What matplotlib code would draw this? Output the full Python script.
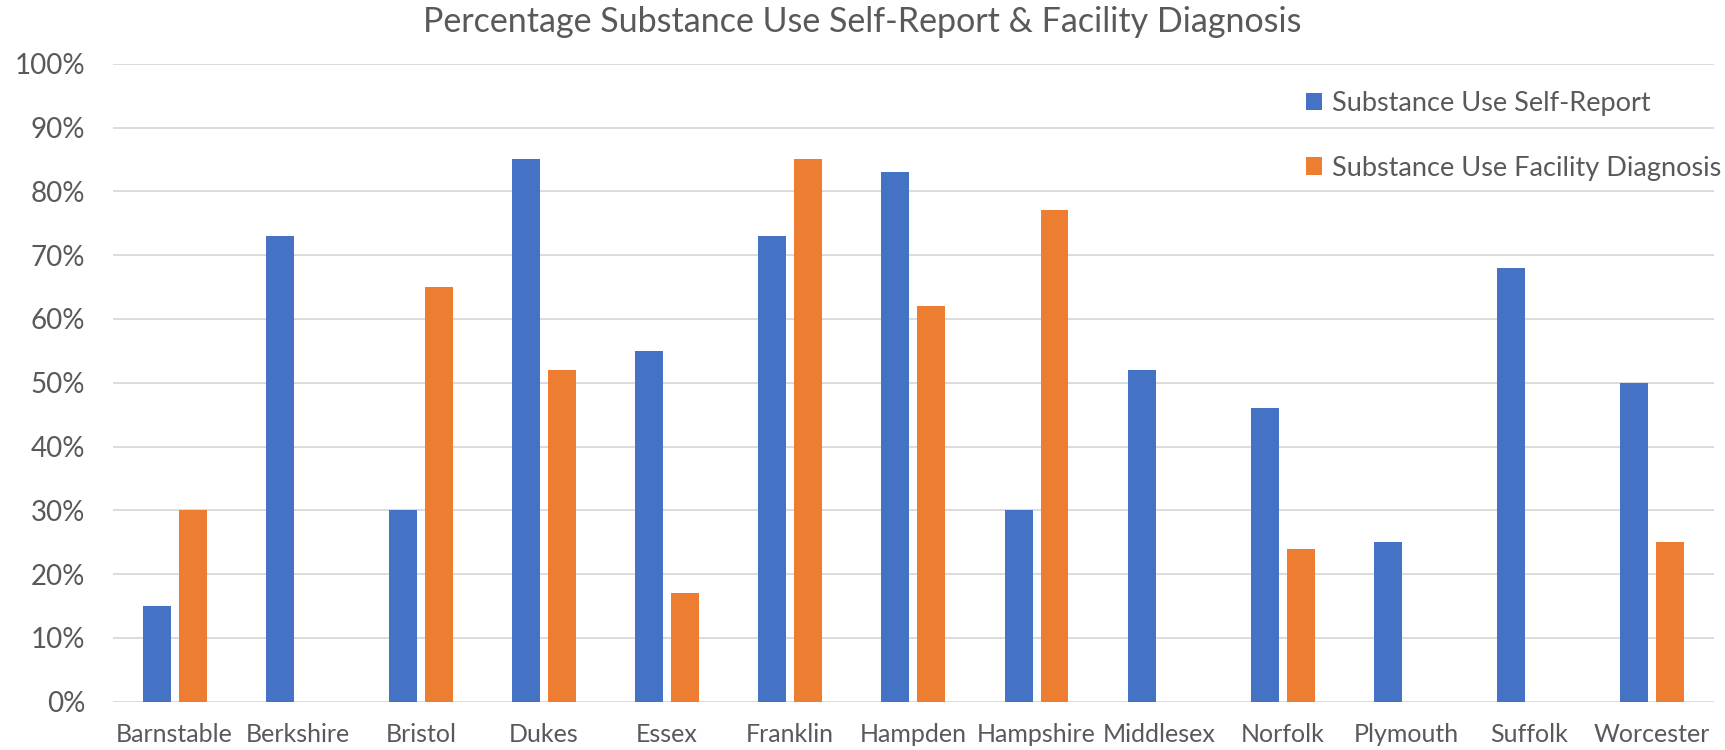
import numpy as np
import matplotlib.pyplot as plt
from matplotlib.ticker import PercentFormatter

plt.rcParams['font.family'] = ['Lato', 'DejaVu Sans']

counties = ["Barnstable", "Berkshire", "Bristol", "Dukes", "Essex", "Franklin",
            "Hampden", "Hampshire", "Middlesex", "Norfolk", "Plymouth", "Suffolk",
            "Worcester"]
self_report = [15, 73, 30, 85, 55, 73, 83, 30, 52, 46, 25, 68, 50]
facility_dx = [30, 0, 65, 52, 17, 85, 62, 77, 0, 24, 0, 0, 25]

blue = '#4472C4'
orange = '#ED7D31'
txt = '#595959'

fig = plt.figure(figsize=(17.25, 7.5), dpi=100)
ax = fig.add_axes([0.0655, 0.0644, 0.928, 0.8506])

x = np.arange(len(counties))
w = 0.227
off = 0.146
ax.bar(x - off, self_report, w, color=blue, edgecolor='white', linewidth=0,
       label="Substance Use Self-Report", zorder=3)
ax.bar(x + off, facility_dx, w, color=orange, edgecolor='white', linewidth=0,
       label="Substance Use Facility Diagnosis", zorder=3)

ax.set_xlim(-0.5, len(counties) - 0.5)
ax.set_ylim(0, 100)
ax.set_yticks(np.arange(0, 101, 10))
ax.yaxis.set_major_formatter(PercentFormatter(decimals=0))
ax.set_xticks(x)
ax.set_xticklabels(counties)
ax.grid(axis='y', color='#D9D9D9', linewidth=1.3, zorder=0)
for s in ax.spines.values():
    s.set_visible(False)
ax.tick_params(axis='y', length=0, pad=20, labelsize=20, labelcolor=txt)
ax.tick_params(axis='x', length=0, pad=15, labelsize=18, labelcolor=txt)

fig.text(0.5, 0.97, "Percentage Substance Use Self-Report & Facility Diagnosis",
         ha='center', va='center', fontsize=24.5, color=txt)

ax.legend(loc='upper left', bbox_to_anchor=(0.73, 0.995), frameon=False,
          fontsize=19.5, labelcolor=txt, handlelength=0.6, handleheight=0.6,
          handletextpad=0.35, labelspacing=1.45)

fig.savefig('out.png', dpi=100)
